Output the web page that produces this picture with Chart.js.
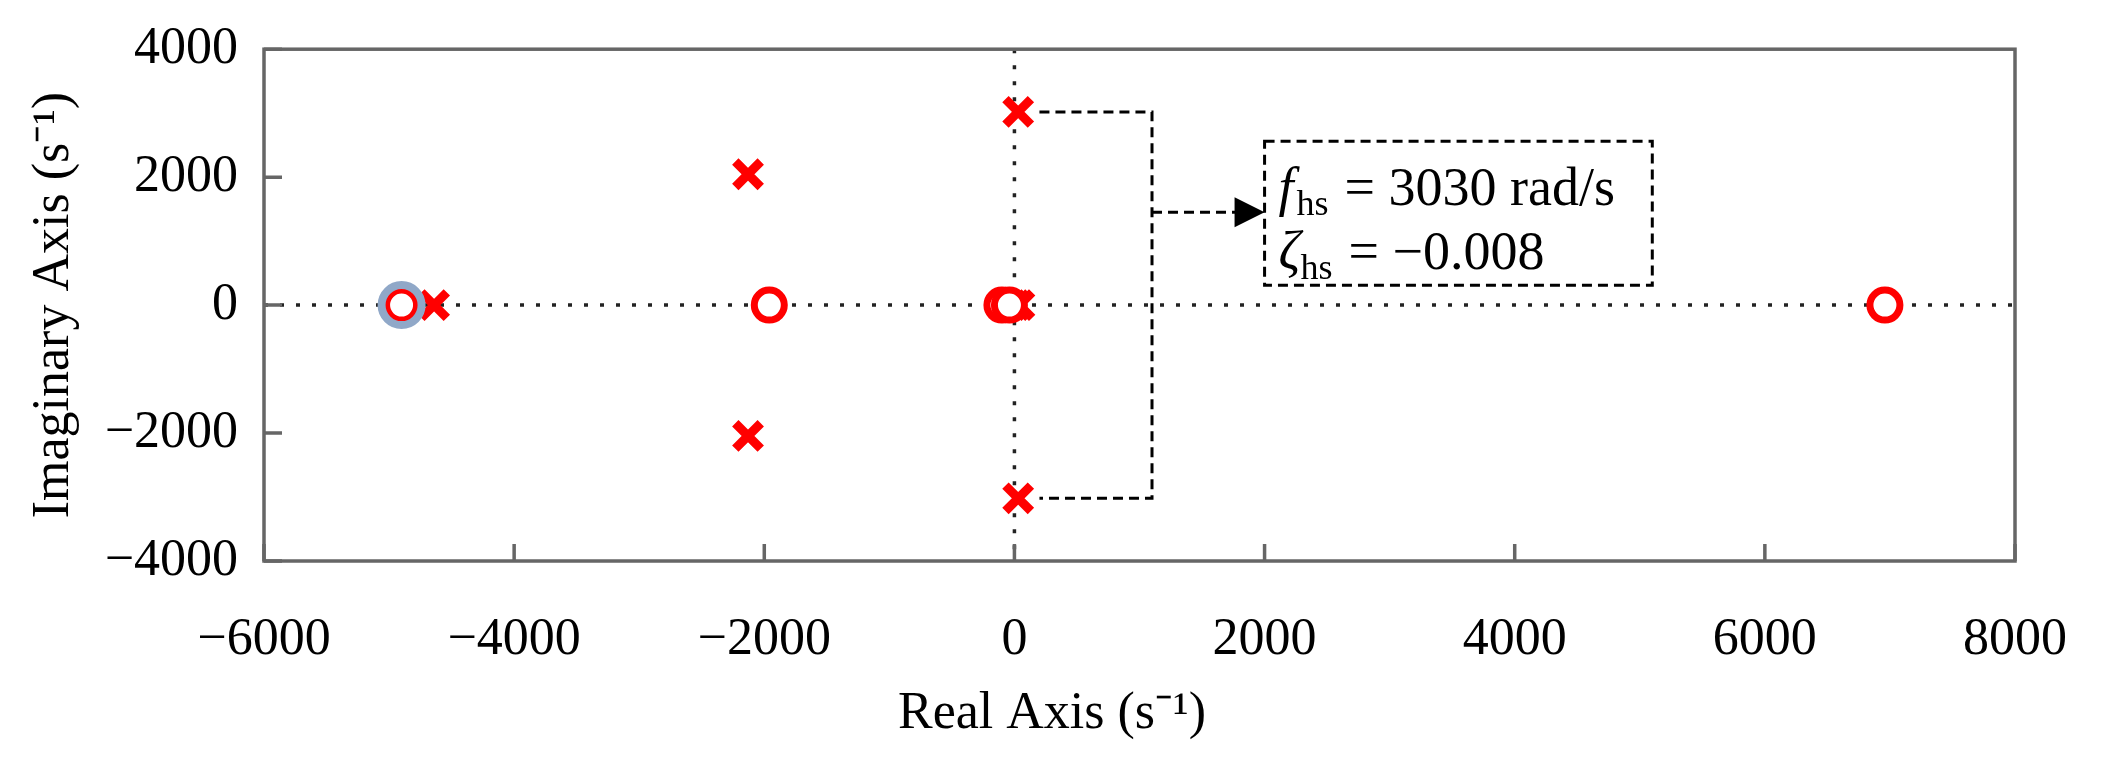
<!DOCTYPE html>
<html>
<head>
<meta charset="utf-8">
<script src="https://cdn.jsdelivr.net/npm/chart.js@4"></script>
<style>
  html, body { margin: 0; background: #fff; }
  #wrap { width: 2107px; height: 766px; }
</style>
</head>
<body>
<div id="wrap"><canvas id="pz"></canvas></div>
<script>
// pole / zero locations
const poleRe = [-4640, -2130, -2130, 30, 30, -60, -20, 10, 40];
const poleIm = [0, 2045, -2045, 3020, -3020, 0, 0, 0, 0];
const zeroRe = [-4900, -1960, 6960, -100, -40];
const zeroIm = [0, 0, 0, 0, 0];
const blueRe = [-4900];
const blueIm = [0];

const xTicks = [-6000, -4000, -2000, 0, 2000, 4000, 6000, 8000];
const yTicks = [-4000, -2000, 0, 2000, 4000];

// annotation (data units)
const bracketX = 1100;
const arrowY = 1450;
const boxX = [2000, 5100];
const boxY = [2560, 310];

const FONT = '"Liberation Serif", "Times New Roman", serif';
const pts = (xs, ys) => xs.map((x, i) => ({ x, y: ys[i] }));

const overlay = {
  id: "overlay",
  beforeDatasetsDraw(c) {
    const { ctx, chartArea: a, scales: { x, y } } = c;
    ctx.save();
    // dotted zero lines
    ctx.strokeStyle = "#222";
    ctx.lineWidth = 3.5;
    ctx.setLineDash([4, 12]);
    ctx.beginPath();
    ctx.moveTo(a.left, y.getPixelForValue(0)); ctx.lineTo(a.right, y.getPixelForValue(0));
    ctx.moveTo(x.getPixelForValue(0), a.top); ctx.lineTo(x.getPixelForValue(0), a.bottom);
    ctx.stroke();

    // dashed bracket + arrow + box
    ctx.strokeStyle = "#000";
    ctx.lineWidth = 3;
    ctx.setLineDash([10, 6]);
    const bx = x.getPixelForValue(bracketX);
    const top = y.getPixelForValue(3020), bot = y.getPixelForValue(-3020);
    const x0 = x.getPixelForValue(200);
    ctx.beginPath();
    ctx.moveTo(x0, top); ctx.lineTo(bx, top); ctx.lineTo(bx, bot); ctx.lineTo(x0, bot);
    const ay = y.getPixelForValue(arrowY);
    const bl = x.getPixelForValue(boxX[0]);
    ctx.moveTo(bx, ay); ctx.lineTo(bl - 28, ay);
    ctx.stroke();
    ctx.strokeRect(bl, y.getPixelForValue(boxY[0]), x.getPixelForValue(boxX[1]) - bl,
      y.getPixelForValue(boxY[1]) - y.getPixelForValue(boxY[0]));
    ctx.setLineDash([]);
    ctx.fillStyle = "#000";
    ctx.beginPath();
    ctx.moveTo(bl, ay); ctx.lineTo(bl - 30, ay - 15); ctx.lineTo(bl - 30, ay + 15); ctx.closePath();
    ctx.fill();

    // box text
    ctx.textBaseline = "alphabetic";
    ctx.textAlign = "left";
    const tx = bl + 14;
    let ty = y.getPixelForValue(boxY[0]) + 64;
    ctx.font = "italic 54px " + FONT;
    ctx.fillText("f", tx, ty);
    ctx.font = "36px " + FONT;
    ctx.fillText("hs", tx + 18, ty + 10);
    ctx.font = "54px " + FONT;
    ctx.fillText("= 3030 rad/s", tx + 66, ty);
    ty += 64;
    ctx.font = "italic 54px " + FONT;
    ctx.fillText("ζ", tx, ty);
    ctx.font = "36px " + FONT;
    ctx.fillText("hs", tx + 22, ty + 10);
    ctx.font = "54px " + FONT;
    ctx.fillText("= −0.008", tx + 70, ty);
    ctx.restore();
  },
  afterDraw(c) {
    const { ctx, chartArea: a, scales: { x, y } } = c;
    ctx.save();
    ctx.strokeStyle = "#666";
    ctx.lineWidth = 3.5;
    ctx.strokeRect(a.left, a.top, a.right - a.left, a.bottom - a.top);
    ctx.beginPath();
    xTicks.forEach(v => {
      const px = x.getPixelForValue(v);
      ctx.moveTo(px, a.bottom); ctx.lineTo(px, a.bottom - 17);
    });
    yTicks.forEach(v => {
      const py = y.getPixelForValue(v);
      ctx.moveTo(a.left, py); ctx.lineTo(a.left + 18, py);
    });
    ctx.stroke();

    // axis titles
    ctx.fillStyle = "#000";
    ctx.font = "52px " + FONT;
    ctx.textAlign = "center";
    ctx.textBaseline = "middle";
    ctx.fillText("Real Axis (s⁻¹)", x.getPixelForValue(300), 714);
    ctx.translate(54, (a.top + a.bottom) / 2);
    ctx.rotate(-Math.PI / 2);
    ctx.fillText("Imaginary Axis (s⁻¹)", 0, 0);
    ctx.restore();
  }
};

new Chart(document.getElementById("pz"), {
  type: "scatter",
  data: {
    datasets: [
      { data: pts(blueRe, blueIm), pointStyle: "circle", pointRadius: 20, borderWidth: 8,
        borderColor: "#90a8c8", backgroundColor: "rgba(255,255,255,0)" },
      { data: pts(zeroRe, zeroIm), pointStyle: "circle", pointRadius: 15, borderWidth: 7,
        borderColor: "#ff0000", backgroundColor: "#fff" },
      { data: pts(poleRe, poleIm), pointStyle: "crossRot", pointRadius: 18, borderWidth: 9,
        borderColor: "#ff0000" }
    ]
  },
  options: {
    responsive: true,
    maintainAspectRatio: false,
    animation: false,
    events: [],
    layout: { padding: { left: 0, top: 38, right: 19, bottom: 0 } },
    plugins: { legend: { display: false }, tooltip: { enabled: false } },
    scales: {
      x: {
        type: "linear", min: -6000, max: 8000,
        afterBuildTicks: s => { s.ticks = xTicks.map(value => ({ value })); },
        afterFit: s => { s.height = 205; },
        grid: { display: false }, border: { display: false },
        ticks: { color: "#000", padding: 40, font: { family: FONT, size: 52 },
          callback: v => String(v).replace("-", "−") }
      },
      y: {
        type: "linear", min: -4000, max: 4000,
        afterBuildTicks: s => { s.ticks = yTicks.map(value => ({ value })); },
        afterFit: s => { s.width = 264; },
        grid: { display: false }, border: { display: false },
        ticks: { color: "#000", padding: 18, font: { family: FONT, size: 52 },
          callback: v => String(v).replace("-", "−") }
      }
    }
  },
  plugins: [overlay]
});
</script>
</body>
</html>
